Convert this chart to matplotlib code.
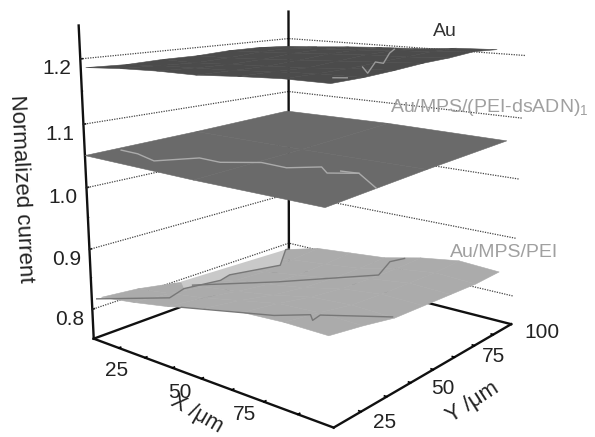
import numpy as np
import matplotlib
matplotlib.use('Agg')
import matplotlib.pyplot as plt
from mpl_toolkits.mplot3d.art3d import Poly3DCollection

plt.rcParams['font.family'] = ['Liberation Sans', 'DejaVu Sans']
plt.rcParams['mathtext.fontset'] = 'custom'
plt.rcParams['mathtext.rm'] = 'Liberation Sans'
plt.rcParams['mathtext.it'] = 'Liberation Sans:italic'

# ---- data (current z in thousandths) ----
x_scan = [0.0, 15.83, 31.67, 47.5, 63.33, 79.17, 95.0]
x_mid = [0.0, 47.5, 95.0]
au_pei = [815,809,798,786,782,785,788, 824,818,809,800,797,801,805, 835,828,818,810,807,808,811,
          850,841,829,821,817,816,817, 862,854,843,836,833,831,832, 866,858,848,844,842,840,842,
          866,857,846,843,840,837,838]
au_ds = [1051,1056,1063, 1045,1053,1064, 1042,1052,1060]
au_bare = [1186,1184,1186,1186,1189,1189,1186, 1190,1188,1186,1188,1192,1193,1190,
           1192,1190,1189,1191,1195,1196,1195, 1192,1192,1192,1195,1199,1200,1199,
           1196,1196,1195,1199,1203,1204,1202, 1199,1199,1200,1203,1205,1208,1208,
           1199,1200,1203,1207,1209,1213,1211]
# traces across the surfaces: (x, y, z*1000)
low_t1 = [(0,2,815),(22,14,825),(12,30,809),(9,51,794),(5,60,789),(16,76,799),(0,98,789),(1,99,790)]
low_t2 = [(9,37,803),(32,56,809),(63,73,832),(54,93,823),(57,98,826)]
low_t3 = [(38,4,841),(72,8,862),(79,16,860),(83,12,862),(81,18,859),(94,36,846)]
mid_t1 = [(1,14,1050),(9,14,1049),(20,11,1047),(29,22,1049),(38,22,1048),(48,30,1048),(59,29,1048),
          (67,36,1049),(73,31,1048),(81,36,1049),(95,25,1047)]
mid_t2 = [(75,35,1049),(81,36,1049)]
top_t1 = [(88,14,1199),(92,15,1200)]
top_t2 = [(81,37,1201),(90,27,1200),(77,49,1202),(82,46,1203),(67,71,1204),(62,81,1205)]
light_patch = [(12,30,809),(9,51,794),(5,60,789),(16,76,799),(0,98,789),(0,40,796)]
x_ticks = [12.5, 25, 37.5, 50, 62.5, 75, 87.5]
y_ticks = [12.5, 25, 37.5, 50, 62.5, 75, 87.5]
z_ticks = [0.8, 0.9, 1.0, 1.1, 1.2]
z_minor = [0.85, 0.95, 1.05, 1.15]
z_labels = ['0.8', '0.9', '1.0', '1.1', '1.2']
x_labels = ['25', '50', '75']
y_labels = ['25', '50', '75', '100']

fig = plt.figure(figsize=(5.95, 4.37), dpi=100)
S, L, B = 520.34, 39.92, -13.46
ax = fig.add_axes([L/595, B/437, S/595, S/437], projection='3d')
ax.computed_zorder = False
ax.set_xlim(0, 100); ax.set_ylim(0, 100); ax.set_zlim(0.75, 1.25)
ax.view_init(12.946, -50.859, -0.1471)
ax.set_proj_type('persp', focal_length=0.35636)
ax.set_box_aspect((1, 0.99767, 1.02312))
ax.patch.set_alpha(0)

for axis in (ax.xaxis, ax.yaxis, ax.zaxis):
    axis.set_pane_color((1, 1, 1, 0))
    axis.pane.set_edgecolor((1, 1, 1, 0))
    axis.line.set_linewidth(1.7)
    axis.line.set_color('#111111')
    axis._axinfo['tick'].update(inward_factor=0.0, outward_factor=0.1,
                                linewidth={True: 1.2, False: 1.2}, color='#111111')
ax.xaxis._axinfo['grid'].update(linewidth=0, color=(1, 1, 1, 0))
ax.yaxis._axinfo['grid'].update(linewidth=0, color=(1, 1, 1, 0))
ax.zaxis._axinfo['grid'].update(linewidth=0.9, color='#444444', linestyle=(0, (1, 1)))

ax.set_xticks(x_ticks, [''] * len(x_ticks))
ax.set_yticks(y_ticks, [''] * len(y_ticks))
ax.set_zticks(z_ticks, z_labels)
ax.zaxis.set_ticks_position('lower')
ax.zaxis.set_label_position('lower')
ax.tick_params(axis='z', labelsize=15, colors='#222222', pad=2)
ax.set_zlabel('Normalized current', fontsize=16, labelpad=7, color='#222222')

# back edges of the box and minor z ticks
ax.plot([0, 0], [100, 100], [0.75, 1.25], color='#111111', lw=1.7, zorder=1)
ax.plot([0, 0], [0, 100], [0.75, 0.75], color='#111111', lw=1.7, zorder=1)
ax.plot([0, 100], [100, 100], [0.75, 0.75], color='#111111', lw=1.7, zorder=1)
for zm in z_minor:
    ax.plot([0, -1.2], [0, 1.2], [zm, zm], color='#111111', lw=1.0, zorder=1)

def surf(xs, vals, near, far, color, z):
    n = len(xs)
    u = np.linspace(0, 1, n)
    y0 = near[0] + (near[1] - near[0]) * u
    y1 = far[0] + (far[1] - far[0]) * u
    X = np.repeat(np.array(xs)[:, None], n, axis=1)
    Y = y0[:, None] + (y1 - y0)[:, None] * u[None, :]
    Z = np.array(vals).reshape(n, n) / 1000
    ax.plot_surface(X, Y, Z, color=color, shade=False, rstride=1, cstride=1,
                    edgecolor=color, linewidth=0.4, zorder=z)

def trace(pts, color, z, lw=1.0):
    p = np.array(pts, float)
    ax.plot(p[:, 0], p[:, 1], p[:, 2] / 1000, color=color, lw=lw, zorder=z)

surf(x_scan, au_pei, (4, 4), (99, 99), '#ababab', 2)
p = np.array(light_patch, float); p[:, 2] /= 1000
ax.add_collection3d(Poly3DCollection([p], facecolor='#c9c9c9', edgecolor='none', zorder=2.5))
trace(low_t1, '#777777', 3); trace(low_t2, '#777777', 3); trace(low_t3, '#777777', 3)
surf(x_mid, au_ds, (0, 2), (99, 100), '#6a6a6a', 4)
trace(mid_t1, '#ababab', 5); trace(mid_t2, '#ababab', 5)
surf(x_scan, au_bare, (2, 4), (99, 90.5), '#4b4b4b', 6)
trace(top_t1, '#9a9a9a', 7); trace(top_t2, '#9a9a9a', 7)

def label(px, py, s, color, size=14, **kw):
    fig.text(px/595, 1 - py/437, s, fontsize=size, color=color, **kw)
label(433, 36, 'Au', '#333333', ha='left', va='baseline')
label(390, 112, 'Au/MPS/(PEI-dsADN)$_1$', '#a0a0a0', ha='left', va='baseline')
label(450, 257, 'Au/MPS/PEI', '#a0a0a0', ha='left', va='baseline')
for s, (px, py) in zip(x_labels, [(117, 370), (180, 392), (245, 415)]):
    label(px, py, s, '#222222', 15, ha='center', va='center')
for s, (px, py) in zip(y_labels, [(385, 423), (443, 388), (493, 357), (542, 332)]):
    label(px, py, s, '#222222', 15, ha='center', va='center')
label(197, 414, 'X /μm', '#222222', 15.5, ha='center', va='center', rotation=-30, rotation_mode='anchor')
label(473, 402, 'Y /μm', '#222222', 16, ha='center', va='center', rotation=33, rotation_mode='anchor')

fig.savefig('out.png', dpi=100)
